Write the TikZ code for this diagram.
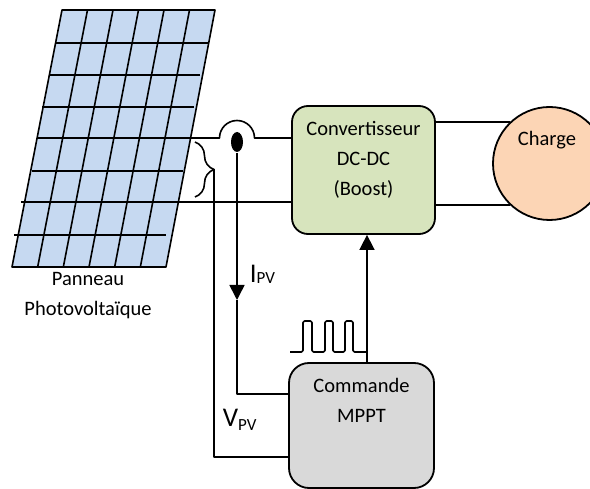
\documentclass[tikz,border=0pt]{standalone}
\usepackage{fontspec}
\setmainfont{Carlito}
\usetikzlibrary{arrows.meta,shapes.geometric,decorations.pathreplacing}
\definecolor{cellblue}{HTML}{C6D9F1}
\definecolor{convgreen}{HTML}{D7E4BD}
\definecolor{loadpeach}{HTML}{FCD5B5}
\definecolor{ctrlgray}{HTML}{D9D9D9}
\begin{document}
\begin{tikzpicture}[x=1pt,y=-1pt,line width=1.6pt,line join=round,
  box/.style={draw,rounded corners=16pt,inner sep=0pt,line width=1.8pt},
  txt/.style={font=\fontsize{20.5}{30}\selectfont,align=center,inner sep=0pt},
  sig/.style={font=\fontsize{27}{27}\selectfont,inner sep=0pt,anchor=base west},
  arr/.style={-{Triangle[width=15pt,length=15pt]}}]
\clip (0,0) rectangle (590,489);
\useasboundingbox (0,0) rectangle (590,489);

% photovoltaic panel: tilted grid of cells
\fill[cellblue] (62,10) -- (215,10) -- (166,267) -- (12,267) -- cycle;
\draw (62,10) -- (215,10) -- (166,267) -- (12,267) -- cycle;
\foreach \k in {1,...,5}
  \draw ({62+25.5*\k},10) -- ({12+25.67*\k},267);
\foreach \y/\a/\b in {43/56/209, 75/49/200, 107/42/194, 171/32/183, 235/14/166}
  \draw (\a,\y) -- (\b,\y);
\coordinate (pvtop) at (37,138);
\coordinate (pvbot) at (21,202);
\node[txt] (pvname) at (88,296) {Panneau\\Photovoltaïque};

% blocks
\node[box,fill=convgreen,minimum width=143,minimum height=128] (conv) at (363.5,170) {};
\node[txt] (convtxt) at (363.5,160) {Convertisseur\\DC-DC\\(Boost)};
\node[box,fill=ctrlgray,rounded corners=20pt,minimum width=145,minimum height=125] (cmd) at (361.5,425.5) {};
\node[txt] (cmdtxt) at (361.5,400) {Commande\\MPPT};
\node[draw,circle,fill=loadpeach,minimum size=113,inner sep=0pt,line width=1.8pt] (load) at (549.5,163.5) {};
\node[txt] (loadtxt) at (547,140) {Charge};

% power wires
\draw (pvtop) -- (219.5,138) arc[start angle=180,end angle=0,radius=17.5pt] -- (conv.west |- pvtop);
\draw (pvbot) -- (conv.west |- pvbot);
\draw (conv.east |- load.134) -- (load.134);
\draw (conv.east |- load.226) -- (load.226);

% current sensor and I_PV measurement
\node[ellipse,fill=black,minimum width=12,minimum height=20,inner sep=0pt] (sens) at (237,142) {};
\coordinate (itip) at (237,300);
\coordinate (iturn) at (237,394);
\draw[arr] (sens.south) -- (itip);
\draw (itip) -- (iturn) -- (cmd.west |- iturn);
\node[sig] (ipv) at (249,283) {I\raisebox{-1pt}{\fontsize{17}{17}\selectfont PV}};

% voltage pick-off and V_PV measurement
\draw[decorate,decoration={brace,amplitude=19pt}] (195,142) -- (195,197);
\coordinate (btip) at (214,169.5);
\coordinate (vturn) at (214,457);
\draw (btip) -- (vturn) -- (cmd.west |- vturn);
\node[sig] (vpv) at (222,427) {V\raisebox{-4pt}{\fontsize{17}{17}\selectfont PV}};

% PWM control signal
\coordinate (ctlx) at (367,0);
\draw[arr] (ctlx |- cmd.north) -- (ctlx |- conv.south);
\draw[rounded corners=1.5pt] (290,352) -- (303,352) -- (303,321) -- (312,321) -- (312,352)
  -- (325,352) -- (325,321) -- (333,321) -- (333,352)
  -- (345,352) -- (345,321) -- (353,321) -- (353,352) -- (367,352);
\end{tikzpicture}
\end{document}
